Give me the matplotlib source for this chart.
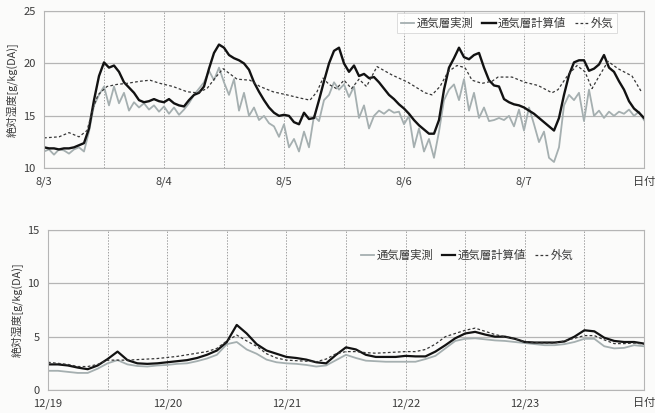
import matplotlib
matplotlib.use("Agg")
import matplotlib.pyplot as plt
import numpy as np

plt.rcParams['font.family'] = ['Noto Sans CJK JP', 'DejaVu Sans']

# ---- August period (hourly, 8/3 00:00 - 8/8 00:00) ----
aug_hours = np.arange(0, 121)
aug_calc = [
    12.0, 11.9, 11.9, 11.8, 11.9, 11.9, 12.0, 12.2, 12.4, 13.8, 16.5, 18.8,
    20.1, 19.6, 19.8, 19.2, 18.2, 17.7, 17.2, 16.5, 16.3, 16.4, 16.6, 16.4,
    16.3, 16.6, 16.2, 16.0, 15.9, 16.5, 17.0, 17.2, 17.8, 19.5, 21.0, 21.8,
    21.5, 20.8, 20.5, 20.3, 20.0, 19.4, 18.2, 17.3, 16.5, 15.8, 15.3, 15.0,
    15.1, 15.0, 14.4, 14.2, 15.3, 14.7, 14.8, 16.5, 18.3, 20.0, 21.2, 21.5,
    20.0, 19.2, 19.8, 18.8, 19.0, 18.6, 18.7, 18.2, 17.6, 17.0, 16.6, 16.1,
    15.7, 15.2, 14.6, 14.1, 13.7, 13.3, 13.3, 14.6, 17.5, 19.6, 20.5, 21.5,
    20.6, 20.4, 20.8, 21.0, 19.6, 18.4, 17.9, 17.8, 16.6, 16.3, 16.1, 16.0,
    15.8, 15.5, 15.2, 14.8, 14.4, 14.0, 13.6, 14.8, 17.0, 18.9, 20.1, 20.3,
    20.3, 19.3, 19.5, 19.9, 20.8, 19.6, 19.2, 18.3, 17.5, 16.4, 15.7, 15.3,
    14.8]
aug_meas = [
    11.6, 11.8, 11.3, 11.8, 11.7, 11.4, 11.8, 12.0, 11.6, 13.5, 16.0, 17.0,
    17.8, 16.0, 17.8, 16.2, 17.2, 15.5, 16.3, 15.8, 16.2, 15.6, 16.0, 15.4,
    15.9, 15.2, 15.8, 15.1, 15.6, 16.2, 17.0, 17.6, 18.2, 19.3, 18.4, 19.6,
    18.2, 17.0, 18.5, 15.5, 17.2, 15.0, 15.8, 14.6, 15.0, 14.3, 14.0, 13.0,
    14.2, 12.0, 12.8, 11.6, 13.5, 12.0, 15.0, 14.5, 16.5, 17.0, 18.2, 17.5,
    18.0, 16.8, 17.8, 14.8, 16.0, 13.8, 15.0, 15.5, 15.2, 15.6, 15.3, 15.4,
    14.2, 15.0, 12.0, 13.8, 11.6, 12.8, 11.0, 13.5, 16.5, 17.5, 18.0, 16.5,
    18.5, 15.5, 17.2, 14.8, 15.8, 14.5, 14.6, 14.8, 14.6, 15.0, 14.0, 15.6,
    13.6, 15.8, 14.2, 12.5, 13.5, 11.0, 10.6, 12.0, 16.0, 17.0, 16.5, 17.2,
    14.5, 17.5, 15.0, 15.5, 14.8, 15.4, 15.0, 15.4, 15.2, 15.6, 15.0, 15.4,
    14.6]
aug_out_hours = [0, 3, 5, 7, 8.6, 9.8, 10.8, 12.6, 14.6, 16.6, 19.2, 21.2,
                 23.2, 25.8, 28.6, 30.6, 32.6, 34.2, 35.8, 38.6, 41.2, 43.2,
                 45.8, 48.6, 51.2, 53.2, 54.6, 55.8, 57.0, 58.5, 60.0, 61.5,
                 63.0, 64.5, 66.6, 69.6, 72.8, 76.2, 77.6, 79.2, 80.8, 82.6,
                 84.2, 85.6, 87.6, 89.6, 90.8, 93.6, 96.2, 98.8, 101.6, 102.8,
                 104.8, 106.6, 108.2, 109.6, 110.8, 112.8, 114.8, 117.6, 119.6]
aug_out = [12.9, 13.0, 13.4, 13.0, 13.6, 15.7, 17.0, 17.8, 18.0, 18.1, 18.3,
           18.4, 18.1, 17.8, 17.3, 17.2, 17.6, 18.6, 19.5, 18.5, 18.4, 17.8,
           17.3, 17.0, 16.7, 16.5, 17.3, 18.6, 18.0, 17.6, 18.4, 17.6, 18.5,
           17.8, 19.7, 18.9, 18.2, 17.2, 17.0, 17.8, 19.2, 19.8, 19.6, 18.4,
           18.1, 18.3, 18.7, 18.7, 18.2, 17.9, 17.2, 17.5, 18.9, 19.8, 19.2,
           17.6, 18.6, 20.2, 19.5, 18.8, 17.2]
aug_ticks = ["8/3", "8/4", "8/5", "8/6", "8/7", "日付"]

# ---- December period (2-hourly, 12/19 00:00 - 12/24 00:00) ----
dec_hours = np.arange(0, 121, 2)
dec_calc = [
    2.4, 2.4, 2.3, 2.1, 1.95, 2.3, 2.9, 3.6, 2.8, 2.5, 2.45, 2.5, 2.6, 2.7,
    2.8, 3.0, 3.3, 3.7, 4.5, 6.1, 5.3, 4.3, 3.7, 3.4, 3.1, 3.0, 2.85, 2.6,
    2.5, 3.3, 4.0, 3.8, 3.3, 3.1, 3.1, 3.1, 3.2, 3.15, 3.15, 3.6, 4.2, 4.85,
    5.3, 5.45, 5.2, 5.0, 5.0, 4.8, 4.5, 4.45, 4.45, 4.45, 4.55, 5.0, 5.6,
    5.5, 4.9, 4.6, 4.5, 4.5, 4.35]
dec_meas = [
    1.8, 1.8, 1.7, 1.6, 1.6, 2.0, 2.5, 2.8, 2.4, 2.25, 2.2, 2.3, 2.35, 2.45,
    2.5, 2.7, 2.95, 3.3, 4.3, 4.5, 3.8, 3.4, 2.85, 2.6, 2.5, 2.45, 2.35, 2.2,
    2.3, 2.8, 3.3, 3.0, 2.75, 2.7, 2.65, 2.65, 2.65, 2.65, 2.9, 3.2, 3.9,
    4.6, 4.8, 4.85, 4.75, 4.65, 4.6, 4.5, 4.4, 4.3, 4.2, 4.2, 4.3, 4.5, 4.8,
    4.8, 4.1, 3.9, 3.95, 4.2, 4.1]
dec_out = [
    2.6, 2.5, 2.4, 2.2, 2.2, 2.4, 2.8, 2.8, 2.8, 2.85, 2.9, 2.95, 3.05, 3.15,
    3.3, 3.45, 3.6, 3.9, 4.6, 5.15, 4.6, 4.1, 3.4, 3.0, 2.8, 2.75, 2.7, 2.65,
    2.9, 3.4, 3.6, 3.6, 3.5, 3.45, 3.5, 3.55, 3.6, 3.6, 3.8, 4.3, 5.0, 5.3,
    5.6, 5.8, 5.5, 5.2, 5.0, 4.8, 4.5, 4.45, 4.4, 4.4, 4.6, 4.85, 5.1, 5.1,
    4.7, 4.35, 4.35, 4.4, 4.3]
dec_ticks = ["12/19", "12/20", "12/21", "12/22", "12/23", "日付"]

series_names = ["通気層実測", "通気層計算値", "外気"]
ylabel = "絶対湿度[g/kg(DA)]"

MEAS_C = "#a5afb0"
CALC_C = "#121212"
OUT_C = "#363636"
GRID_C = "#b5b5b5"
TXT_C = "#3a3a3a"

fig = plt.figure(figsize=(6.55, 4.13), dpi=100, facecolor="#fbfbfa")
ax1 = fig.add_axes([44 / 655, 1 - 168.3 / 413, 600 / 655, 157.3 / 413])
ax2 = fig.add_axes([48 / 655, 1 - 390 / 413, 596 / 655, 160 / 413])


def style(ax, ylim, yticks, xlabels):
    ax.set_facecolor("none")
    ax.set_xlim(0, 120)
    ax.set_ylim(*ylim)
    ax.set_yticks(yticks)
    ax.set_xticks(np.arange(0, 121, 24))
    ax.set_xticklabels(xlabels)
    ax.set_xticks(np.arange(0, 121, 12), minor=True)
    ax.tick_params(which="both", length=0, labelsize=8, colors=TXT_C, pad=6)
    for s in ax.spines.values():
        s.set_color(GRID_C)
        s.set_linewidth(0.8)
    ax.grid(axis="y", color=GRID_C, linewidth=0.9)
    ax.grid(axis="x", which="both", color="#a0a0a0", linewidth=0.7,
            linestyle=(0, (1.5, 1.5)))
    ax.set_axisbelow(True)
    ax.set_ylabel(ylabel, fontsize=7.8, color=TXT_C, labelpad=3)


style(ax1, (10, 25), [10, 15, 20, 25], aug_ticks)
style(ax2, (0, 15), [0, 5, 10, 15], dec_ticks)

ax1.plot(aug_hours, aug_meas, color=MEAS_C, lw=1.3, label=series_names[0])
ax1.plot(aug_hours, aug_calc, color=CALC_C, lw=1.7, label=series_names[1])
ax1.plot(aug_out_hours, aug_out, color=OUT_C, lw=0.9,
         linestyle=(0, (2.2, 1.8)), label=series_names[2])

ax2.plot(dec_hours, dec_meas, color=MEAS_C, lw=1.3, label=series_names[0])
ax2.plot(dec_hours, dec_calc, color=CALC_C, lw=1.6, label=series_names[1])
ax2.plot(dec_hours, dec_out, color=OUT_C, lw=0.9,
         linestyle=(0, (2.2, 1.8)), label=series_names[2])

leg_kw = dict(ncol=3, fontsize=8.2, handlelength=1.15, handletextpad=0.2,
              columnspacing=0.8, borderpad=0.35, fancybox=False, loc="center")
l1 = ax1.legend(bbox_to_anchor=(0.772, 0.924), **leg_kw)
l1.get_frame().set_edgecolor("#d5d5d5")
l1.get_frame().set_linewidth(0.7)
l2 = ax2.legend(bbox_to_anchor=(0.703, 0.844), **leg_kw)
l2.get_frame().set_edgecolor("none")
l2.get_frame().set_alpha(0.0)
for leg in (l1, l2):
    for t in leg.get_texts():
        t.set_color(TXT_C)

fig.savefig("out.png", dpi=100, facecolor=fig.get_facecolor())
